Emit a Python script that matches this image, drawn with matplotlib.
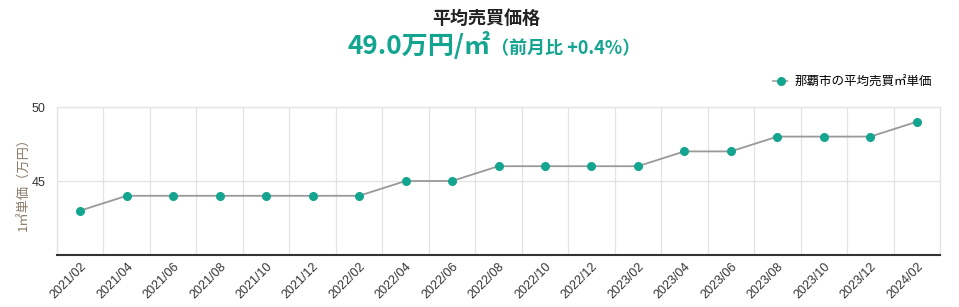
import matplotlib
matplotlib.use("Agg")
import matplotlib.pyplot as plt
import matplotlib.transforms as mtransforms
from matplotlib.lines import Line2D

plt.rcParams['font.family'] = ['Noto Sans CJK JP', 'DejaVu Sans']

months = ['2021/02', '2021/04', '2021/06', '2021/08', '2021/10', '2021/12',
          '2022/02', '2022/04', '2022/06', '2022/08', '2022/10', '2022/12',
          '2023/02', '2023/04', '2023/06', '2023/08', '2023/10', '2023/12',
          '2024/02']
price = [43.0, 44.0, 44.0, 44.0, 44.0, 44.0, 44.0, 45.0, 45.0, 46.0, 46.0,
         46.0, 46.0, 47.0, 47.0, 48.0, 48.0, 48.0, 49.0]
y_ticks = [45, 50]

teal = '#14a590'
fig = plt.figure(figsize=(9.59, 3.07), dpi=100)
ax = fig.add_axes([57 / 959, 1 - 255 / 307, 883 / 959, 148 / 307])

x = list(range(len(months)))
ax.plot(x, price, color='#999999', lw=1.3, marker='o', ms=5.5,
        markerfacecolor=teal, markeredgecolor=teal, zorder=3)

ax.set_xlim(-0.5, len(months) - 0.5)
ax.set_ylim(40, 50)
ax.set_yticks(y_ticks)
ax.set_yticklabels([str(v) for v in y_ticks], family='Liberation Sans')
ax.set_xticks(x)
ax.set_xticklabels(months, rotation=45, ha='right', va='top',
                   rotation_mode='anchor', fontsize=9, color='#333333',
                   family='Liberation Sans')
shift = mtransforms.ScaledTranslation(11 / 100, 0, fig.dpi_scale_trans)
for lbl in ax.get_xticklabels():
    lbl.set_transform(lbl.get_transform() + shift)
ax.set_xticks([i - 0.5 for i in range(len(months) + 1)], minor=True)
ax.tick_params(axis='both', which='both', length=0)
ax.tick_params(axis='y', labelsize=9, labelcolor='#333333', pad=8)
ax.tick_params(axis='x', pad=4)
ax.grid(True, which='minor', axis='x', color='#e3e3e3', lw=0.9)
ax.grid(True, which='major', axis='y', color='#e3e3e3', lw=0.9)
ax.grid(False, which='major', axis='x')
for s in ['left', 'right', 'top']:
    ax.spines[s].set_color('#e3e3e3')
    ax.spines[s].set_linewidth(0.9)
ax.spines['bottom'].set_color('#333333')
ax.spines['bottom'].set_linewidth(1.5)

ax.set_ylabel('1㎡単価（万円）', fontsize=9.5, color='#8a7a66', labelpad=1)

fig.text(486 / 959, 1 - 18 / 307, '平均売買価格', ha='center', va='center',
         fontsize=13, fontweight='bold', color='#222222')
fig.text(491 / 959, 1 - 54 / 307, '49.0万円/㎡', ha='right', va='baseline',
         fontsize=18.8, fontweight='bold', color=teal)
fig.text(491 / 959, 1 - 54 / 307, '（前月比 +0.4%）', ha='left', va='baseline',
         fontsize=13, fontweight='bold', color=teal)

handle = Line2D([], [], color='#aaaaaa', ls='--', lw=1.3, marker='o', ms=5.5,
                markerfacecolor=teal, markeredgecolor=teal)
fig.legend([handle], ['那覇市の平均売買㎡単価'], loc='center right',
           bbox_to_anchor=(938 / 959, 1 - 82 / 307), frameon=False,
           fontsize=9, handlelength=1.4, handletextpad=0.4, borderpad=0)

fig.savefig('out.png', dpi=100, facecolor='white')
